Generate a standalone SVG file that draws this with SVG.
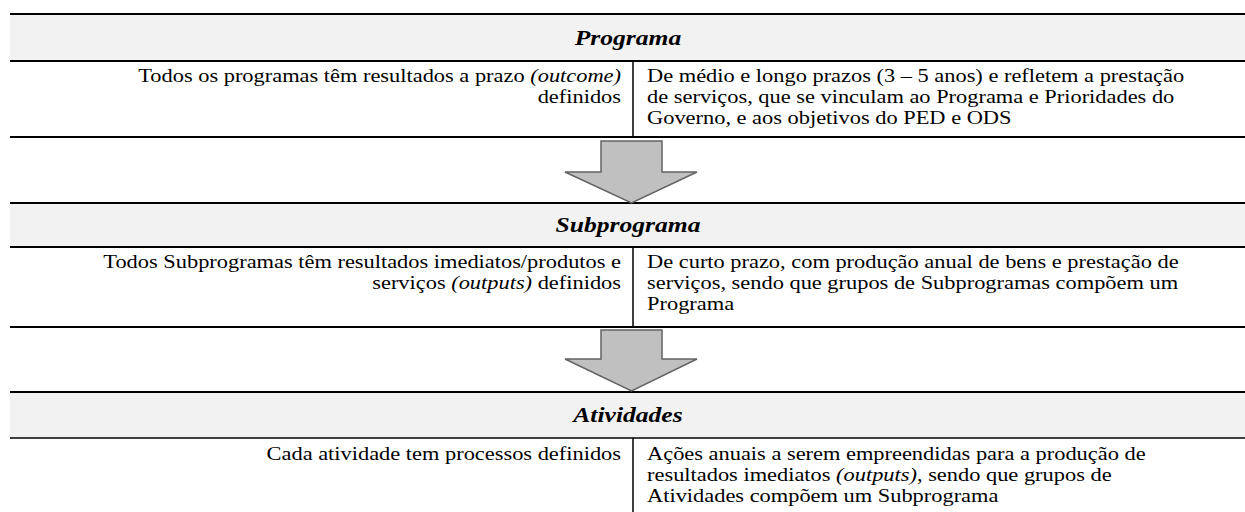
<svg xmlns="http://www.w3.org/2000/svg" width="1245" height="512" viewBox="0 0 1245 512">
<style>
.band{fill:#f2f2f2}
.hl{stroke:#000;stroke-width:2}
.vl{stroke:#000;stroke-width:1.5}
.arrow{fill:#c0c0c0;stroke:#636363;stroke-width:1.5}
.t{font-family:"Liberation Serif","Times New Roman",serif;font-size:18.67px;fill:#000}
.h{font-family:"Liberation Serif","Times New Roman",serif;font-size:21.33px;font-weight:bold;font-style:italic;fill:#000;text-anchor:middle}
.r{text-anchor:end}
.i{font-style:italic}
</style>
<rect width="1245" height="512" fill="#fff"/>
<g id="programa">
<rect class="band" x="10" y="14" width="1235" height="47"/>
<line class="hl" x1="10" y1="14" x2="1245" y2="14"/>
<line class="hl" x1="10" y1="61" x2="1245" y2="61"/>
<g transform="scale(1.2,1)"><text class="h" x="523.3" y="45">Programa</text></g>
<line class="vl" x1="633" y1="61" x2="633" y2="137"/>
<g transform="scale(1.2,1)">
<text class="t r" x="517.5" y="82">Todos os programas têm resultados a prazo <tspan class="i">(outcome)</tspan></text>
<text class="t r" x="517.5" y="103">definidos</text>
<text class="t" x="539.2" y="82">De médio e longo prazos (3 – 5 anos) e refletem a prestação</text>
<text class="t" x="539.2" y="103">de serviços, que se vinculam ao Programa e Prioridades do</text>
<text class="t" x="539.2" y="124">Governo, e aos objetivos do PED e ODS</text>
</g>
<line class="hl" x1="10" y1="137" x2="1245" y2="137"/>
</g>
<g id="subprograma">
<rect class="band" x="10" y="203" width="1235" height="44"/>
<line class="hl" x1="10" y1="203" x2="1245" y2="203"/>
<line class="hl" x1="10" y1="247" x2="1245" y2="247"/>
<g transform="scale(1.2,1)"><text class="h" x="523.3" y="232">Subprograma</text></g>
<line class="vl" x1="633" y1="247" x2="633" y2="327"/>
<g transform="scale(1.2,1)">
<text class="t r" x="517.5" y="268">Todos Subprogramas têm resultados imediatos/produtos e</text>
<text class="t r" x="517.5" y="289">serviços <tspan class="i">(outputs)</tspan> definidos</text>
<text class="t" x="539.2" y="268">De curto prazo, com produção anual de bens e prestação de</text>
<text class="t" x="539.2" y="289">serviços, sendo que grupos de Subprogramas compõem um</text>
<text class="t" x="539.2" y="310">Programa</text>
</g>
<line class="hl" x1="10" y1="327" x2="1245" y2="327"/>
</g>
<g id="atividades">
<rect class="band" x="10" y="392" width="1235" height="46"/>
<line class="hl" x1="10" y1="392" x2="1245" y2="392"/>
<line class="hl" x1="10" y1="438" x2="1245" y2="438" style="stroke-width:1.5"/>
<g transform="scale(1.2,1)"><text class="h" x="523.3" y="422">Atividades</text></g>
<line class="vl" x1="633" y1="438" x2="633" y2="512"/>
<g transform="scale(1.2,1)">
<text class="t r" x="517.5" y="460">Cada atividade tem processos definidos</text>
<text class="t" x="539.2" y="460">Ações anuais a serem empreendidas para a produção de</text>
<text class="t" x="539.2" y="481">resultados imediatos <tspan class="i">(outputs)</tspan>, sendo que grupos de</text>
<text class="t" x="539.2" y="502">Atividades compõem um Subprograma</text>
</g>
</g>
<g id="connectors">
<path class="arrow" d="M601,141 H662 V172 H697 L631.5,203 L565,172 H601 Z"/>
<path class="arrow" d="M601,330 H662 V359 H697 L631.5,391 L565,359 H601 Z"/>
</g>
</svg>
